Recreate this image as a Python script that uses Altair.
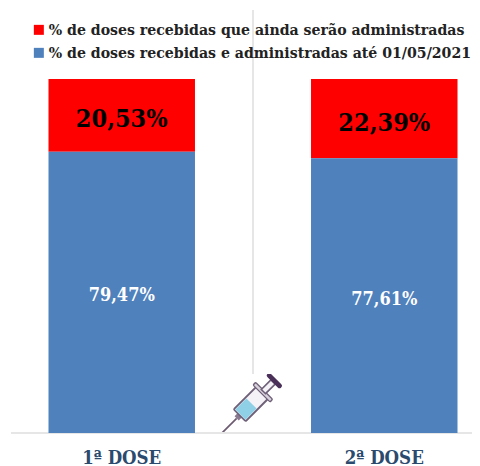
import base64
import altair as alt
import pandas as pd

doses = ["1ª DOSE", "2ª DOSE"]
pendentes = [20.53, 22.39]
administradas = [79.47, 77.61]
rotulos_pendentes = ["20,53%", "22,39%"]
rotulos_administradas = ["79,47%", "77,61%"]
series = ["% de doses recebidas que ainda serão administradas",
          "% de doses recebidas e administradas até 01/05/2021"]
cores = ["#ff0000", "#4f81bd"]

rows = []
for d, p, a, rp, ra in zip(doses, pendentes, administradas, rotulos_pendentes, rotulos_administradas):
    rows.append({"dose": d, "serie": series[0], "ordem": 1, "inicio": a, "fim": a + p, "meio": a + p / 2, "rotulo": rp})
    rows.append({"dose": d, "serie": series[1], "ordem": 0, "inicio": 0, "fim": a, "meio": a / 2, "rotulo": ra})
df = pd.DataFrame(rows)

FONT = "DejaVu Serif Condensed"
W, H = 464, 354

x = alt.X("dose:N", sort=doses, title=None,
          scale=alt.Scale(domain=doses, paddingInner=0.442, paddingOuter=0, range=[40.5, 449.5]),
          axis=alt.Axis(ticks=False, domain=False, labelAngle=0, labelFont=FONT, labelFontWeight="bold",
                        labelFontSize=18.5, labelColor="#2a4a6e", labelPadding=15, grid=False))
y = alt.Y("inicio:Q", title=None, axis=None, scale=alt.Scale(domain=[0, 100], nice=False))

bars = alt.Chart(df).mark_bar(stroke=None).encode(
    x=x, y=y, y2="fim:Q",
    color=alt.Color("serie:N", sort=series, scale=alt.Scale(domain=series, range=cores),
                    legend=alt.Legend(title=None, orient="none", legendX=23, legendY=-57, direction="vertical",
                                      symbolType="square", symbolSize=100, symbolStrokeWidth=0,
                                      labelFont=FONT, labelFontWeight="bold", labelFontSize=15.7,
                                      labelColor="#222222", labelLimit=460, rowPadding=6, labelOffset=2)),
)

texto_red = alt.Chart(df[df.ordem == 1]).mark_text(font=FONT, fontWeight="bold", fontSize=25, color="#000000", dy=4).encode(
    x=alt.X("dose:N", sort=doses), y=alt.Y("meio:Q"), text="rotulo:N")
texto_blue = alt.Chart(df[df.ordem == 0]).mark_text(font=FONT, fontWeight="bold", fontSize=18, color="#ffffff", dy=4).encode(
    x=alt.X("dose:N", sort=doses), y=alt.Y("meio:Q"), text="rotulo:N")

eixo = alt.Chart(df).mark_rule(color="#e6e6e6", strokeWidth=1.5).encode(
    x=alt.value(3), x2=alt.value(W), y=alt.value(H))
vertical = alt.Chart(df).mark_rule(color="#e6e6e6", strokeWidth=1.5).encode(
    x=alt.value(245), y=alt.value(-69), y2=alt.value(H))

svg = """<svg xmlns='http://www.w3.org/2000/svg' width='70' height='60' viewBox='0 0 70 60'>
<rect width='70' height='60' fill='white'/>
<g transform='translate(36 28) rotate(45) scale(1.2 1.05)'>
<line x1='0' y1='22' x2='0' y2='42' stroke='#6b5a70' stroke-width='1.4'/>
<rect x='-2.5' y='17' width='5' height='5' fill='#8a7a90'/>
<rect x='-7' y='-12' width='14' height='30' rx='1' fill='#f4f2f6' stroke='#6e6078' stroke-width='1.6'/>
<rect x='-6' y='2' width='12' height='15' fill='#8fd0e6'/>
<rect x='-10' y='-15' width='20' height='3.5' rx='1' fill='#d8d2dc' stroke='#6e6078' stroke-width='1.2'/>
<rect x='-2.5' y='-27' width='5' height='13' fill='#f4f2f6' stroke='#6e6078' stroke-width='1.4'/>
<rect x='-8' y='-31' width='16' height='4.5' rx='2' fill='#4a2f58'/>
</g></svg>"""
uri = "data:image/svg+xml;base64," + base64.b64encode(svg.encode()).decode()
seringa = alt.Chart(pd.DataFrame({"u": [uri]})).mark_image(width=70, height=60, align="left", baseline="top").encode(
    url="u:N", x=alt.value(209), y=alt.value(295))

chart = alt.layer(vertical, seringa, eixo, bars, texto_red, texto_blue).resolve_scale(x="shared").properties(
    width=W, height=H,
    autosize=alt.AutoSizeParams(type="none"),
    padding={"left": 0, "right": 0, "top": 71, "bottom": 33},
    background="white",
).configure_view(stroke=None)

chart.save("out.html", embed_options={"renderer": "svg", "actions": False})
